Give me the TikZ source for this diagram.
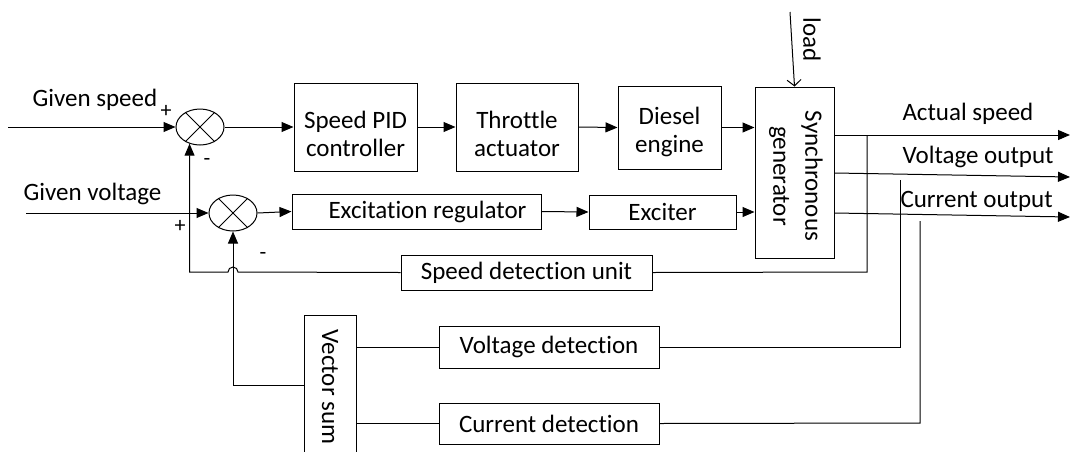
\documentclass[tikz,border=0pt]{standalone}
\usepackage{fontspec}
\setmainfont{Carlito}[Ligatures=NoCommon]
\usetikzlibrary{arrows.meta,calc,shapes.geometric}
\begin{document}
\begin{tikzpicture}[x=1pt,y=-1pt,line width=1pt,
  txt/.style={font=\fontsize{25}{28}\selectfont},
  blk/.style={draw,line width=1pt,inner sep=0pt,txt,align=center},
  sum/.style={draw,ellipse,line width=1pt,inner sep=0pt,minimum width=48pt,minimum height=36pt},
  arr/.style={-{Triangle[length=12pt,width=10pt]}},
  lbl/.style={txt,inner sep=0pt},
  sgn/.style={font=\fontsize{22}{24}\selectfont,inner sep=0pt}]
\useasboundingbox (0,0) rectangle (1072,451);

% summing junctions
\node[sum] (s1) at (200,127) {};
\node[sum] (s2) at (233,213) {};
\foreach \s in {s1,s2}{
  \draw (\s.45) -- (\s.225);
  \draw (\s.135) -- (\s.315);
}

% blocks
\node[blk,minimum width=123pt,minimum height=88pt] (pid) at (355.5,127) {};
\node[lbl,align=center] (pidt) at (355.5,134) {Speed PID\\controller};
\node[blk,minimum width=122pt,minimum height=88pt] (thr) at (517,127) {};
\node[lbl,align=center] (thrt) at (517,134) {Throttle\\actuator};
\node[blk,minimum width=103pt,minimum height=83pt] (die) at (669.5,127.5) {};
\node[lbl,align=center] (diet) at (669.5,132) {Diesel\\engine};
\node[blk,minimum width=79pt,minimum height=171pt] (gen) at (794.5,172.5) {};
\node[lbl,rotate=-90,align=center,font=\fontsize{25}{32}\selectfont] (gent) at (796,176) {Synchronous\\generator};
\node[blk,minimum width=249pt,minimum height=35pt] (exr) at (416.5,211.5) {\hspace*{22pt}Excitation regulator};
\node[blk,minimum width=147pt,minimum height=34pt] (exc) at (662.5,212) {Exciter};
\node[blk,minimum width=251pt,minimum height=35pt] (sdu) at (526.5,272.5) {Speed detection unit};
\node[blk,minimum width=220pt,minimum height=42pt] (vd) at (549,347) {Voltage detection};
\node[blk,minimum width=220pt,minimum height=41pt] (cd) at (549,423.5) {Current detection};
\node[blk,minimum width=52pt,minimum height=137pt] (vs) at (330,383.5) {};
\node[lbl,rotate=-90] (vst) at (330,387) {Vector sum};

% inputs
\coordinate (in1) at (8,127);
\coordinate (in2) at (26,213);
\draw[arr] (in1) -- (s1.west);
\draw[arr] (in2) -- (s2.west);
\node[lbl,anchor=base west] (gs) at (32,106) {Given speed};
\node[lbl,anchor=base west] (gv) at (23,200) {Given voltage};
\node[sgn] (p1) at (166,111) {+};
\node[sgn] (m1) at (207,162) {-};
\node[sgn] (p2) at (180,226) {+};
\node[sgn] (m2) at (263,256) {-};

% forward paths
\draw[arr] (s1.east) -- (pid.west);
\draw[arr] (pid.east) -- (thr.west);
\draw[arr] (thr.east) -- (die.west);
\draw[arr] (die.east) -- (die.east -| gen.west);
\draw[arr] (s2.east) -- (exr.west);
\draw[arr] (exr.east) -- (exc.west);
\draw[arr] (exc.east) -- (exc.east -| gen.west);

% load
\coordinate (ld) at (790,12);
\draw[-{Straight Barb[length=6pt,width=14pt]}] (ld) -- (gen.north);
\node[lbl,rotate=-90] (ldt) at (812,40) {load};

% outputs
\coordinate (o1) at (1070,135);
\coordinate (o2) at (1070,177);
\coordinate (o3) at (1070,217);
\draw[arr] (gen.east |- 0,135) -- (o1);
\draw[arr] (gen.east |- 0,173) -- (o2);
\draw[arr] (gen.east |- 0,213) -- (o3);
\node[lbl,anchor=base west] (ast) at (902,120) {Actual speed};
\node[lbl,anchor=base west] (vot) at (902,163) {Voltage output};
\node[lbl,anchor=base west] (cot) at (900,207) {Current output};

% speed feedback
\coordinate (t1) at (867,135);
\draw (t1) -- (867,272) -- (sdu.east);
\draw[arr] (sdu.west) -- (238,272) arc[start angle=0,end angle=-180,radius=5] -- (s1.238.6 |- 0,272) -- (s1.238.6);

% voltage / current detection
\coordinate (t2) at (900,180);
\coordinate (t3) at (920,221);
\draw (t2) -- (900,347) -- (vd.east);
\draw (t3) -- (920,423) -- (cd.east);
\draw (vd.west) -- (vd.west -| vs.east);
\draw (cd.west) -- (cd.west -| vs.east);

% vector sum feedback
\draw[arr] (vs.west |- 0,385) -- (s2.south |- 0,385) -- (s2.south);
\end{tikzpicture}
\end{document}
